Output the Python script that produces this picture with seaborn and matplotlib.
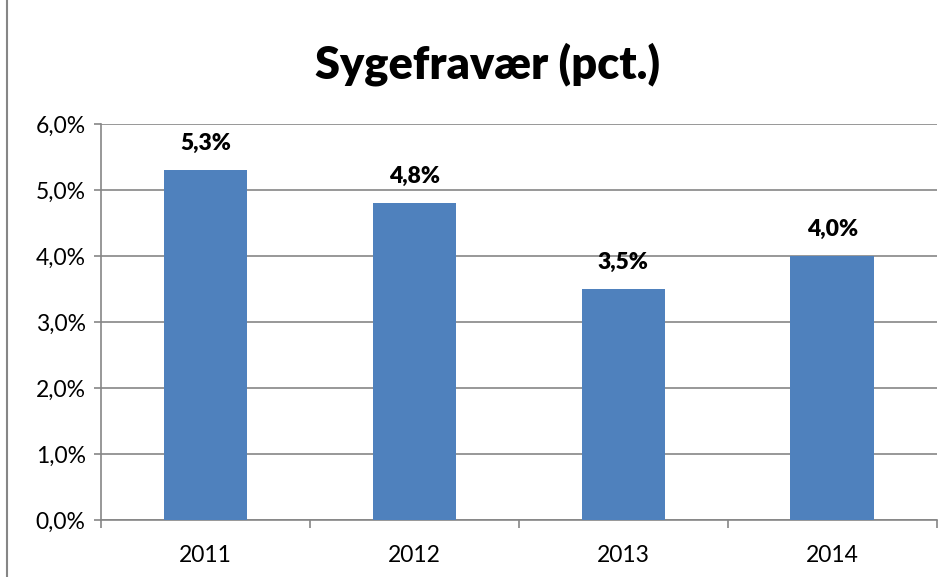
import pandas as pd
import matplotlib.pyplot as plt
import seaborn as sns
from matplotlib.ticker import FuncFormatter, FixedLocator
from matplotlib.patches import Rectangle

sns.set_theme(style="white")
plt.rcParams['font.family'] = ['Lato', 'DejaVu Sans']

# data
years = ['2011', '2012', '2013', '2014']
sick_leave = [0.053, 0.048, 0.035, 0.040]

df = pd.DataFrame({'year': years, 'pct': sick_leave})

bar_color = '#4F81BD'
axis_gray = '#868686'

fig = plt.figure(figsize=(9.52, 5.77), dpi=100)
ax = fig.add_axes([0.106, 0.099, 0.878, 0.686])

sns.barplot(data=df, x='year', y='pct', color=bar_color, width=0.4,
            saturation=1, linewidth=0, ax=ax, zorder=3)

ax.set_ylim(0, 0.06)
ax.set_xlim(-0.5, 3.5)
ax.set_yticks([0, 0.01, 0.02, 0.03, 0.04, 0.05, 0.06])
ax.yaxis.set_major_formatter(FuncFormatter(lambda v, _: f"{v*100:.1f}%".replace('.', ',')))
ax.grid(axis='y', color=axis_gray, linewidth=1.2, zorder=0)
ax.set_xlabel('')
ax.set_ylabel('')

for s in ['top', 'right']:
    ax.spines[s].set_visible(False)
for s in ['left', 'bottom']:
    ax.spines[s].set_color(axis_gray)
    ax.spines[s].set_linewidth(1.2)

ax.tick_params(axis='y', left=True, length=5, color=axis_gray, width=1.2,
               labelsize=16.5, labelcolor='black', pad=6)
ax.tick_params(axis='x', bottom=False, labelsize=16.5, labelcolor='black', pad=12)
ax.xaxis.set_minor_locator(FixedLocator([-0.5, 0.5, 1.5, 2.5, 3.5]))
ax.tick_params(axis='x', which='minor', bottom=True, length=6, color=axis_gray, width=1.2)

# value labels above the bars
for i, v in enumerate(sick_leave):
    ax.annotate(f"{v*100:.1f}%".replace('.', ','), (i, v), xytext=(0, 19),
                textcoords='offset points', ha='center', va='center',
                fontsize=16.5, fontweight='heavy', color='black')

fig.text(0.512, 0.888, 'Sygefravær (pct.)', ha='center', va='center',
         fontsize=32.5, fontweight='heavy', color='black')

# chart border
fig.patches.append(Rectangle((0.007, -0.01), 1.1, 1.1, transform=fig.transFigure,
                             fill=False, edgecolor=axis_gray, linewidth=1.5))

fig.savefig('out.png', dpi=100)
